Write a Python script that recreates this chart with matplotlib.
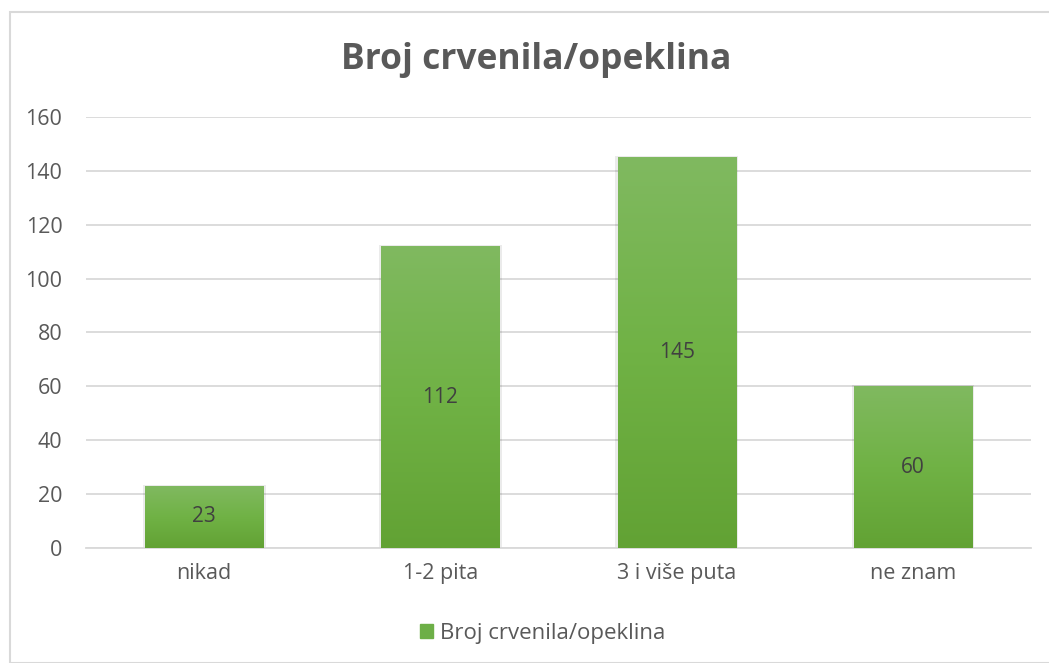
import matplotlib.pyplot as plt
import numpy as np
from matplotlib.patches import Rectangle
from matplotlib.colors import LinearSegmentedColormap

categories = ['nikad', '1-2 pita', '3 i više puta', 'ne znam']
values = [23, 112, 145, 60]
series_name = 'Broj crvenila/opeklina'

plt.rcParams['font.family'] = ['Open Sans', 'DejaVu Sans']
text_color = '#595959'
grid_color = '#D9D9D9'

fig = plt.figure(figsize=(10.49, 6.63), dpi=100)
ax = fig.add_axes([0.082, 0.1735, 0.901, 0.65])

x = np.arange(len(categories))
width = 0.5
bars = ax.bar(x, values, width=width, color='#6DAF47', zorder=2, label=series_name)

# vertical gradient inside each bar (darker at the bottom, lighter at the top)
grad = np.linspace(0, 1, 256).reshape(-1, 1)
cmap = LinearSegmentedColormap.from_list('g', ['#62A234', '#70B245', '#80B960'])
for b in bars:
    x0, y0 = b.get_x(), b.get_y()
    w, h = b.get_width(), b.get_height()
    # soft shadow
    ax.add_patch(Rectangle((x0 - 0.01, y0), w + 0.02, h + 0.4, color='#000000',
                           alpha=0.08, zorder=1.5, lw=0))
    ax.imshow(grad, extent=[x0, x0 + w, y0, y0 + h], origin='lower', aspect='auto',
              cmap=cmap, zorder=3)
    ax.text(x0 + w / 2, h / 2, str(int(h)), ha='center', va='center',
            fontsize=15, color='#404040', zorder=4)

ax.set_xlim(-0.5, len(categories) - 0.5)
ax.set_ylim(0, 160)
ax.set_yticks(np.arange(0, 161, 20))
ax.set_xticks(x)
ax.set_xticklabels(categories)
ax.tick_params(axis='both', length=0, labelsize=15.5, colors=text_color)
ax.tick_params(axis='y', pad=17)
ax.tick_params(axis='x', pad=11)
ax.yaxis.grid(True, color=grid_color, lw=1.3, zorder=0)
ax.set_axisbelow(True)
for s in ['top', 'right', 'left']:
    ax.spines[s].set_visible(False)
ax.spines['bottom'].set_color(grid_color)
ax.spines['bottom'].set_linewidth(1.3)

fig.text(0.511, 0.91, 'Broj crvenila/opeklina', ha='center', va='center',
         fontsize=25.5, fontweight='bold', color=text_color)

leg = fig.legend(handles=[Rectangle((0, 0), 1, 1, color='#6DAF47')], labels=[series_name],
                 loc='center', bbox_to_anchor=(0.517, 0.045), frameon=False,
                 fontsize=16, handlelength=0.6, handleheight=0.6, handletextpad=0.3)
for t in leg.get_texts():
    t.set_color(text_color)

fig.patches.append(Rectangle((10 / 1049, 0), 1.5, 1 - 12 / 663, transform=fig.transFigure,
                             fill=False, edgecolor='#D9D9D9', lw=1.5))

fig.savefig('out.png', dpi=100, facecolor='white')
